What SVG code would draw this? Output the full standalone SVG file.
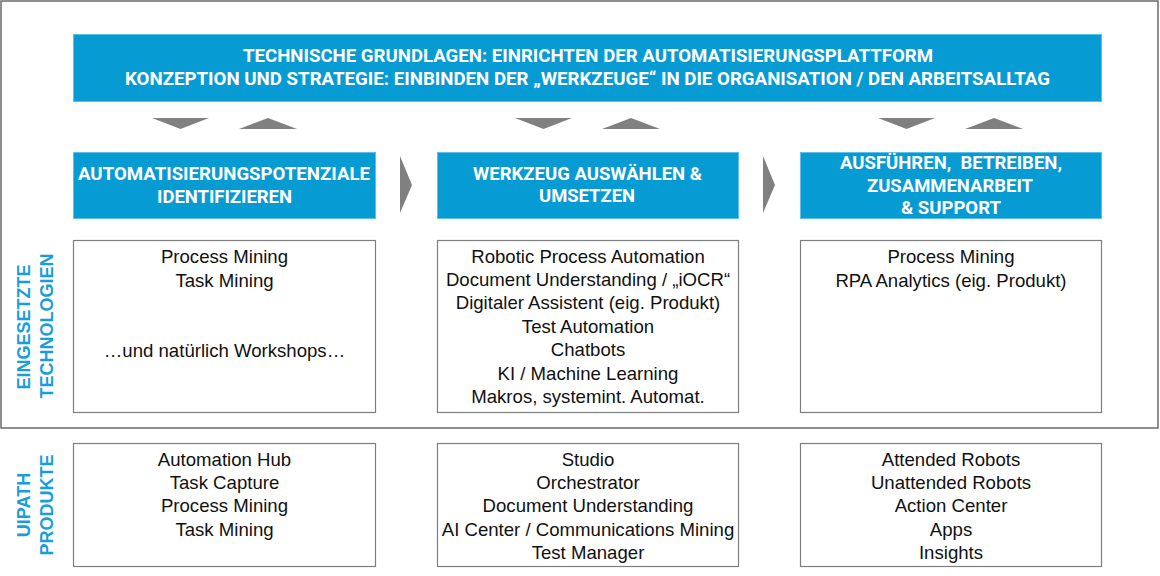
<svg xmlns="http://www.w3.org/2000/svg" width="1160" height="576" viewBox="0 0 1160 576">
<style>
.bar{fill:#079bd4;stroke:#5ec0ea;stroke-width:1}
.hd{font-family:Roboto,"Liberation Sans",sans-serif;font-weight:700;font-size:17.5px;fill:#fff;text-anchor:middle}
.bx{fill:#fff;stroke:#7f7f7f;stroke-width:1.2}
.tx{font-family:"Liberation Sans",Arial,sans-serif;font-size:18.6px;fill:#111;text-anchor:middle}
.vl{font-family:"Liberation Sans",Arial,sans-serif;font-weight:700;font-size:18px;fill:#1a9ed9;text-anchor:middle}
.tri{fill:#808080}
</style>
<rect x="0" y="0" width="1160" height="576" fill="#fff"/>
<rect id="frame" x="1" y="1" width="1157" height="427" fill="none" stroke="#6a6a6a" stroke-width="1.5"/>

<g id="banner">
<rect class="bar" x="73.5" y="34.5" width="1028" height="67"/>
<text class="hd" x="588" y="62" textLength="690" lengthAdjust="spacingAndGlyphs">TECHNISCHE GRUNDLAGEN: EINRICHTEN DER AUTOMATISIERUNGSPLATTFORM</text>
<text class="hd" x="587.5" y="85" textLength="925" lengthAdjust="spacingAndGlyphs">KONZEPTION UND STRATEGIE: EINBINDEN DER „WERKZEUGE“ IN DIE ORGANISATION / DEN ARBEITSALLTAG</text>
</g>

<g id="connectors">
<polygon class="tri" points="152,118 209,118 180.5,129"/>
<polygon class="tri" points="239,129 297,129 268,118"/>
<polygon class="tri" points="515,118 572,118 543.5,129"/>
<polygon class="tri" points="602,129 660,129 631,118"/>
<polygon class="tri" points="878,118 935,118 906.5,129"/>
<polygon class="tri" points="965,129 1023,129 994,118"/>
<polygon class="tri" points="400,156 412,185 400,213"/>
<polygon class="tri" points="763,156 775,185 763,213"/>
</g>

<g id="stage1">
<rect class="bar" x="73.5" y="152.5" width="302" height="66"/>
<text class="hd" x="224" y="180" textLength="292" lengthAdjust="spacingAndGlyphs">AUTOMATISIERUNGSPOTENZIALE</text>
<text class="hd" x="224.5" y="202.5" textLength="135" lengthAdjust="spacingAndGlyphs">IDENTIFIZIEREN</text>
</g>
<g id="stage2">
<rect class="bar" x="437.5" y="152.5" width="301" height="66"/>
<text class="hd" x="587.5" y="180" textLength="229" lengthAdjust="spacingAndGlyphs">WERKZEUG AUSWÄHLEN &amp;</text>
<text class="hd" x="587" y="202" textLength="96" lengthAdjust="spacingAndGlyphs">UMSETZEN</text>
</g>
<g id="stage3">
<rect class="bar" x="800.5" y="152.5" width="301" height="66"/>
<text class="hd" x="951" y="169" xml:space="preserve" textLength="222" lengthAdjust="spacingAndGlyphs">AUSFÜHREN,  BETREIBEN,</text>
<text class="hd" x="950" y="191.5" textLength="166" lengthAdjust="spacingAndGlyphs">ZUSAMMENARBEIT</text>
<text class="hd" x="951" y="213.5" textLength="100" lengthAdjust="spacingAndGlyphs">&amp; SUPPORT</text>
</g>

<g id="label-tech">
<text class="vl" transform="translate(30,327) rotate(-90)">EINGESETZTE</text>
<text class="vl" transform="translate(52.5,326) rotate(-90)">TECHNOLOGIEN</text>
</g>
<g id="label-prod">
<text class="vl" transform="translate(30,505) rotate(-90)">UIPATH</text>
<text class="vl" transform="translate(52.5,505) rotate(-90)">PRODUKTE</text>
</g>

<g id="tech1">
<rect class="bx" x="73.5" y="240.5" width="302" height="172"/>
<text class="tx" x="224.5" y="263">Process Mining</text>
<text class="tx" x="224.5" y="286.5">Task Mining</text>
<text class="tx" x="224.5" y="357">…und natürlich Workshops…</text>
</g>
<g id="tech2">
<rect class="bx" x="437.5" y="240.5" width="301" height="172"/>
<text class="tx" x="588" y="262.5">Robotic Process Automation</text>
<text class="tx" x="588" y="286">Document Understanding / „iOCR“</text>
<text class="tx" x="588" y="309.4">Digitaler Assistent (eig. Produkt)</text>
<text class="tx" x="588" y="332.8">Test Automation</text>
<text class="tx" x="588" y="356.3">Chatbots</text>
<text class="tx" x="588" y="379.7">KI / Machine Learning</text>
<text class="tx" x="588" y="403.2">Makros, systemint. Automat.</text>
</g>
<g id="tech3">
<rect class="bx" x="800.5" y="240.5" width="301" height="172"/>
<text class="tx" x="951" y="263">Process Mining</text>
<text class="tx" x="951" y="286.5">RPA Analytics (eig. Produkt)</text>
</g>

<g id="prod1">
<rect class="bx" x="73.5" y="443.5" width="302" height="123"/>
<text class="tx" x="224.5" y="465.5">Automation Hub</text>
<text class="tx" x="224.5" y="489">Task Capture</text>
<text class="tx" x="224.5" y="512.4">Process Mining</text>
<text class="tx" x="224.5" y="535.8">Task Mining</text>
</g>
<g id="prod2">
<rect class="bx" x="437.5" y="443.5" width="301" height="123"/>
<text class="tx" x="588" y="465.5">Studio</text>
<text class="tx" x="588" y="489">Orchestrator</text>
<text class="tx" x="588" y="512.4">Document Understanding</text>
<text class="tx" x="588" y="535.8">AI Center / Communications Mining</text>
<text class="tx" x="588" y="559.2">Test Manager</text>
</g>
<g id="prod3">
<rect class="bx" x="800.5" y="443.5" width="301" height="123"/>
<text class="tx" x="951" y="465.5">Attended Robots</text>
<text class="tx" x="951" y="489">Unattended Robots</text>
<text class="tx" x="951" y="512.4">Action Center</text>
<text class="tx" x="951" y="535.8">Apps</text>
<text class="tx" x="951" y="559.2">Insights</text>
</g>
</svg>
